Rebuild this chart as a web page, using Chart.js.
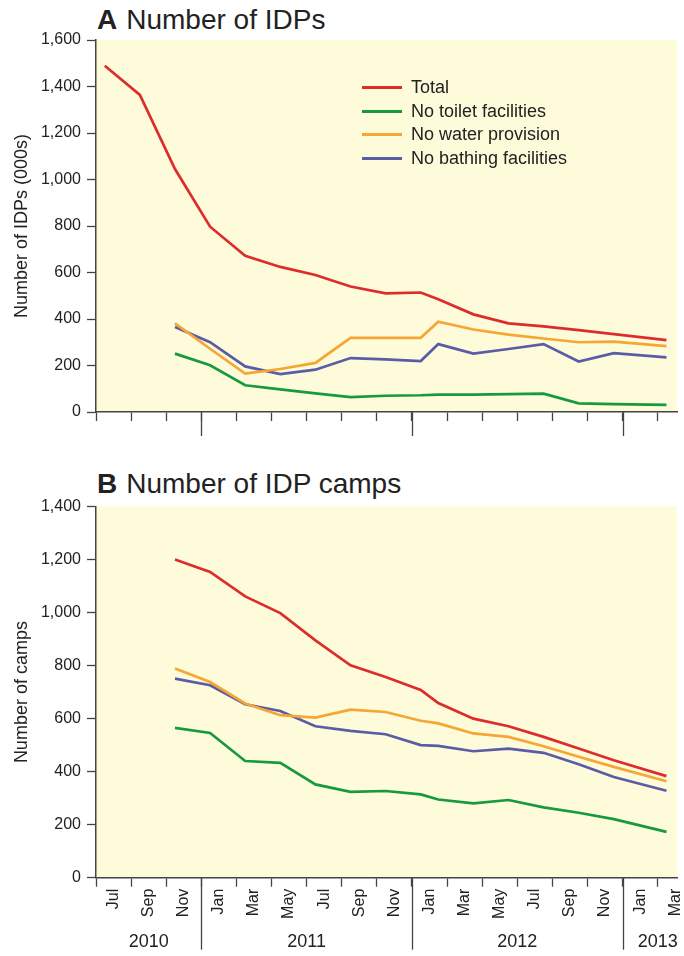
<!DOCTYPE html>
<html lang="en">
<head>
<meta charset="UTF-8">
<title>Number of IDPs and IDP camps</title>
<script src="https://cdn.jsdelivr.net/npm/chart.js@4"></script>
<style>
  html, body { margin: 0; padding: 0; background: #fff; overflow: hidden; }
  body { width: 684px; height: 956px; position: relative; font-family: 'Liberation Sans', Arial, sans-serif; color: #222; }
  .panel { position: absolute; left: 0; width: 684px; }
  #panelA { top: 0; height: 455px; }
  #panelB { top: 455px; height: 501px; }
  .title { position: absolute; left: 97px; font-size: 28px; line-height: 32px; white-space: nowrap; }
  .title b { margin-right: 9px; }
  #legend { position: absolute; left: 362px; top: 76px; font-size: 18px; }
  #legend .row { height: 23.5px; display: flex; align-items: center; }
  #legend .sw { display: inline-block; width: 40px; height: 3px; margin-right: 9px; }
</style>
</head>
<body>
  <div class="title" style="top:4px"><b>A</b>Number of IDPs</div>
  <div class="title" style="top:468px"><b>B</b>Number of IDP camps</div>
  <div class="panel" id="panelA"><canvas id="chartA"></canvas></div>
  <div class="panel" id="panelB"><canvas id="chartB"></canvas></div>
  <div id="legend"></div>

<script>
  // x values are months counted from 1 Jul 2010
  var months = [0.5, 2.5, 4.5, 6.5, 8.5, 10.5, 12.5, 14.5, 16.5, 18.5, 19.5, 21.5, 23.5, 25.5, 27.5, 29.5, 32.5];
  var monthLabels = ['Jul', 'Sep', 'Nov', 'Jan', 'Mar', 'May', 'Jul', 'Sep', 'Nov', 'Jan', 'Mar', 'May', 'Jul', 'Sep', 'Nov', 'Jan', 'Mar'];
  var yearLabels = ['2010', '2011', '2012', '2013'];
  var yearBounds = [0, 6, 18, 30, 34];
  var seriesNames = ['Total', 'No toilet facilities', 'No water provision', 'No bathing facilities'];

  // A: IDPs (000s)
  var idpTotal = [1489, 1364, 1045, 797, 672, 624, 589, 540, 510, 514, 485, 420, 381, 368, 352, 335, 309];
  var idpNoToilet = [null, null, 251, 201, 115, 97, 80, 64, 70, 72, 75, 75, 77, 79, 37, 34, 31];
  var idpNoWater = [null, null, 381, 272, 165, 185, 211, 319, 319, 319, 388, 355, 333, 316, 300, 303, 283];
  var idpNoBathing = [null, null, 366, 300, 196, 163, 182, 232, 226, 219, 292, 251, 271, 292, 217, 253, 235];

  // B: camps
  var campTotal = [null, null, 1200, 1153, 1061, 998, 895, 801, 757, 708, 659, 600, 571, 531, 487, 443, 383];
  var campNoToilet = [null, null, 565, 546, 440, 433, 352, 324, 327, 314, 295, 280, 293, 265, 245, 221, 173];
  var campNoWater = [null, null, 789, 738, 657, 613, 604, 634, 625, 592, 582, 544, 531, 496, 456, 418, 364];
  var campNoBathing = [null, null, 751, 726, 654, 629, 571, 554, 541, 500, 497, 477, 487, 471, 428, 380, 328];

  var lineColors = ['#dd2c2c', '#179a3e', '#f5a633', '#5a5ca6'];
  var axisColor = '#444';
  var plotBg = '#fefbdb';

  Chart.defaults.font.family = "'Liberation Sans', Arial, sans-serif";
  Chart.defaults.color = '#222';

  // yellow plot background
  var bgPlugin = {
    id: 'plotBg',
    beforeDraw: function (chart) {
      var a = chart.chartArea;
      chart.ctx.save();
      chart.ctx.fillStyle = plotBg;
      chart.ctx.fillRect(a.left, a.top, a.right - a.left, a.bottom - a.top);
      chart.ctx.restore();
    }
  };

  // long year separators + year labels under the month axis
  var yearPlugin = {
    id: 'years',
    afterDraw: function (chart, args, opts) {
      var ctx = chart.ctx, a = chart.chartArea, x = chart.scales.x;
      ctx.save();
      ctx.strokeStyle = axisColor;
      ctx.lineWidth = 1.3;
      for (var i = 1; i < yearBounds.length - 1; i++) {
        var px = Math.round(x.getPixelForValue(yearBounds[i])) + 0.5;
        ctx.beginPath();
        ctx.moveTo(px, a.bottom);
        ctx.lineTo(px, a.bottom + opts.length);
        ctx.stroke();
      }
      if (opts.showLabels) {
        ctx.fillStyle = '#222';
        ctx.font = "18px 'Liberation Sans', Arial, sans-serif";
        ctx.textAlign = 'center';
        ctx.textBaseline = 'middle';
        for (var j = 0; j < yearLabels.length; j++) {
          var mid = (yearBounds[j] + yearBounds[j + 1]) / 2;
          ctx.fillText(yearLabels[j], x.getPixelForValue(mid), a.bottom + opts.labelOffset);
        }
      }
      ctx.restore();
    }
  };

  function makeChart(id, height, padTop, xHeight, values, yMax, yTitle, showMonths, yearOpts) {
    var canvas = document.getElementById(id);
    canvas.width = 684;
    canvas.height = height;
    var datasets = values.map(function (vals, k) {
      return {
        label: seriesNames[k],
        data: months.map(function (m, i) { return { x: m, y: vals[i] }; }),
        borderColor: lineColors[k],
        backgroundColor: lineColors[k],
        borderWidth: 2.7,
        pointRadius: 0,
        tension: 0,
        spanGaps: false
      };
    });
    return new Chart(canvas, {
      type: 'line',
      data: { datasets: datasets },
      plugins: [bgPlugin, yearPlugin],
      options: {
        responsive: false,
        animation: false,
        layout: { padding: { top: padTop, right: 7, bottom: 0, left: 0 } },
        plugins: {
          legend: { display: false },
          tooltip: { enabled: false },
          years: yearOpts
        },
        scales: {
          x: {
            type: 'linear',
            min: 0,
            max: 33.1,
            afterBuildTicks: function (s) {
              var t = [];
              for (var m = 0; m <= 33; m++) t.push({ value: m });
              s.ticks = t;
            },
            afterFit: function (s) {
              s.height = xHeight;
              s.paddingLeft = 0;
              s.paddingRight = 0;
            },
            border: { color: axisColor, width: 1.5 },
            grid: {
              drawOnChartArea: false,
              drawTicks: true,
              tickLength: 9,
              tickWidth: 1.3,
              tickColor: function (c) {
                return (c.tick && c.tick.value % 2 === 0) ? axisColor : 'rgba(0,0,0,0)';
              }
            },
            ticks: {
              display: showMonths,
              autoSkip: false,
              minRotation: 90,
              maxRotation: 90,
              padding: 2,
              font: { size: 16 },
              color: '#222',
              callback: function (v) {
                return v % 2 === 1 ? monthLabels[(v - 1) / 2] : '';
              }
            }
          },
          y: {
            min: 0,
            max: yMax,
            afterFit: function (s) { s.width = 96; },
            border: { color: axisColor, width: 1.5 },
            grid: { drawOnChartArea: false, tickLength: 9, tickWidth: 1.3, tickColor: axisColor },
            ticks: { stepSize: 200, padding: 6, font: { size: 16 }, color: '#222' },
            title: { display: true, text: yTitle, font: { size: 18 }, color: '#222', padding: { top: 11, bottom: 0 } }
          }
        }
      }
    });
  }

  var chartA = makeChart('chartA', 455, 40, 43,
    [idpTotal, idpNoToilet, idpNoWater, idpNoBathing], 1600, 'Number of IDPs (000s)', false,
    { length: 24, showLabels: false });

  makeChart('chartB', 501, 51.5, 78.3,
    [campTotal, campNoToilet, campNoWater, campNoBathing], 1400, 'Number of camps', true,
    { length: 72, showLabels: true, labelOffset: 64 });

  // legend built from the datasets of chart A
  var legend = document.getElementById('legend');
  chartA.data.datasets.forEach(function (ds) {
    legend.innerHTML += '<div class="row"><span class="sw" style="background:' + ds.borderColor +
      '"></span>' + ds.label + '</div>';
  });
</script>
</body>
</html>
